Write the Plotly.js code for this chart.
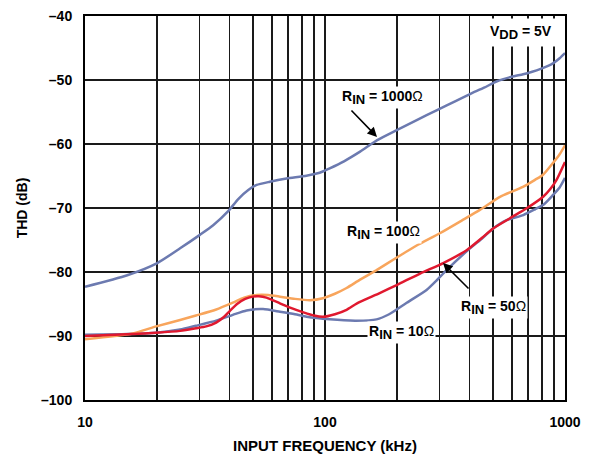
<!DOCTYPE html>
<html>
<head>
<meta charset="utf-8">
<script src="https://cdn.plot.ly/plotly-3.0.1.min.js"></script>
<style>html,body{margin:0;padding:0;background:#fff;}#chart{width:590px;height:457px;}</style>
</head>
<body>
<div id="chart"></div>
<script>
// Frequency (kHz) and THD (dB) for each input resistance
const freq1000 = [10, 15, 20, 24.9, 30.1, 34.2, 39.5, 43.5, 47.9, 51.9, 58.9, 69.1, 83.7, 95, 104.6, 120, 140, 165, 200, 240, 293, 350, 402, 460, 521, 600, 669, 730, 787, 850, 891, 950, 1000];
const thd1000  = [-82.3, -80.5, -78.6, -76.3, -74.2, -72.7, -70.5, -68.6, -67.2, -66.4, -65.9, -65.4, -64.95, -64.5, -63.8, -62.7, -61.2, -59.4, -57.8, -56.3, -54.7, -53.3, -52.2, -51.2, -50.2, -49.5, -49.1, -48.7, -48.3, -47.8, -47.4, -46.6, -45.8];

const freq100 = [10, 15.8, 19.8, 24.9, 29, 35, 41.3, 46, 51.9, 58, 64.9, 75, 86.6, 98, 110, 123, 140, 164, 200, 240, 301, 370, 442, 536, 668, 750, 810, 891, 950, 1000];
const thd100  = [-90.5, -89.6, -88.5, -87.5, -86.8, -85.9, -84.8, -84.0, -83.6, -83.6, -83.85, -84.2, -84.4, -84.1, -83.4, -82.5, -81.2, -79.7, -77.7, -75.9, -73.95, -72.0, -70.3, -68.25, -66.7, -65.6, -64.8, -62.97, -61.6, -60.2];

const freq50 = [10, 15.8, 19.8, 24.9, 29, 32, 35.2, 38, 40.1, 43, 46.5, 50, 53, 57, 64.9, 72, 81.3, 90, 98, 110, 123, 136, 169, 200, 250, 311, 389, 450, 502, 590, 692, 813, 870, 922, 1000];
const thd50  = [-90.0, -89.7, -89.5, -89.2, -88.8, -88.5, -87.9, -87.0, -86.1, -85.0, -84.2, -83.85, -83.8, -84.0, -84.9, -85.6, -86.3, -86.8, -87.0, -86.6, -85.9, -84.9, -83.3, -82.0, -80.2, -78.6, -76.6, -74.7, -73.2, -71.6, -70.05, -68.2, -67.0, -65.6, -62.8];

const freq10 = [10, 15, 19.8, 24.9, 29, 35.2, 41.3, 47.1, 55.2, 64.9, 75, 83.9, 104.6, 135, 164, 185, 219, 265, 293, 321, 402, 450, 502, 571, 670, 750, 813, 890, 950, 1000];
const thd10  = [-89.8, -89.7, -89.5, -89.0, -88.4, -87.6, -86.7, -86.0, -85.8, -86.2, -86.6, -87.0, -87.4, -87.6, -87.4, -86.6, -84.8, -82.8, -81.25, -79.7, -76.3, -74.8, -73.2, -71.9, -71.1, -70.2, -69.5, -68.0, -66.8, -65.3];

const xTickVals = [10, 20, 30, 40, 50, 60, 70, 80, 90, 100, 200, 300, 400, 500, 600, 700, 800, 900, 1000];
const xTickText = ['10', '', '', '', '', '', '', '', '', '100', '', '', '', '', '', '', '', '', '1000'];
const yTickVals = [-100, -90, -80, -70, -60, -50, -40];
const yTickText = ['–100', '–90', '–80', '–70', '–60', '–50', '–40'];

const BLUE = '#6C7AB0', ORANGE = '#F8A55C', RED = '#E0192F';
const FONT = 'Liberation Sans, Arial, Helvetica, sans-serif';

const lineStyle = (c) => ({color: c, width: 2.5, shape: 'spline', smoothing: 0.6});
const traces = [
  {x: freq1000, y: thd1000, mode: 'lines', line: lineStyle(BLUE)},
  {x: freq10, y: thd10, mode: 'lines', line: lineStyle(BLUE)},
  {x: freq100, y: thd100, mode: 'lines', line: lineStyle(ORANGE)},
  {x: freq50, y: thd50, mode: 'lines', line: lineStyle(RED)}
];

const OM = '<span style="font-weight:normal">Ω</span>';
const SUB = (t) => '<sub><span style="font-size:13px">' + t + '</span></sub>';
const lbl = (a, s, b) => '<b>' + a + SUB(s) + b + '</b>';
const annFont = {family: FONT, size: 14, color: '#000'};

const layout = {
  width: 590, height: 457,
  margin: {l: 85, r: 25, t: 16, b: 57},
  paper_bgcolor: '#fff', plot_bgcolor: '#fff',
  showlegend: false,
  font: {family: FONT, color: '#000'},
  xaxis: {
    type: 'log', range: [1, 3],
    tickvals: xTickVals, ticktext: xTickText,
    showgrid: true, gridcolor: '#1a1a1a', gridwidth: 1.7,
    showline: true, linecolor: '#000', linewidth: 2, mirror: true,
    ticks: '', zeroline: false,
    ticklabelstandoff: 8,
    tickfont: {family: FONT, size: 14, weight: 'bold', color: '#000'},
    title: {text: '<b>INPUT FREQUENCY (kHz)</b>', font: {family: FONT, size: 15, color: '#000'}, standoff: 12}
  },
  yaxis: {
    range: [-100, -40],
    tickvals: yTickVals, ticktext: yTickText,
    showgrid: true, gridcolor: '#1a1a1a', gridwidth: 1.7,
    showline: true, linecolor: '#000', linewidth: 2, mirror: true,
    ticks: '', zeroline: false,
    ticklabelstandoff: 8,
    tickfont: {family: FONT, size: 14, weight: 'bold', color: '#000'},
    title: {text: '<b>THD (dB)</b>', font: {family: FONT, size: 14, color: '#000'}, standoff: 10}
  },
  annotations: [
    {x: Math.log10(655), y: -42.5, xref: 'x', yref: 'y', text: lbl('V', 'DD', ' = 5V'), showarrow: false, font: annFont, bgcolor: '#fff', borderpad: 4},
    {x: 2.2375, y: -52.66, xref: 'x', yref: 'y', text: lbl('R', 'IN', ' = 1000') + OM, showarrow: false, font: annFont, bgcolor: '#fff', borderpad: 1},
    {x: 2.2167, y: -58.9, xref: 'x', yref: 'y', text: '', showarrow: true, ax: -27, ay: -28, arrowhead: 2, arrowsize: 1.2, arrowwidth: 1.6, arrowcolor: '#000'},
    {x: 2.2458, y: -73.75, xref: 'x', yref: 'y', text: lbl('R', 'IN', ' = 100') + OM, showarrow: false, font: annFont, bgcolor: '#fff', borderpad: 1},
    {x: 2.702, y: -85.47, xref: 'x', yref: 'y', text: lbl('R', 'IN', ' = 50') + OM, showarrow: false, font: annFont, bgcolor: '#fff', borderpad: 1},
    {x: 2.4917, y: -78.59, xref: 'x', yref: 'y', text: '', showarrow: true, ax: 27, ay: 27, arrowhead: 2, arrowsize: 1.2, arrowwidth: 1.6, arrowcolor: '#000'},
    {x: 2.3208, y: -89.53, xref: 'x', yref: 'y', text: lbl('R', 'IN', ' = 10') + OM, showarrow: false, font: annFont, bgcolor: '#fff', borderpad: 1}
  ]
};

Plotly.newPlot('chart', traces, layout, {displayModeBar: false, staticPlot: true});
</script>
</body>
</html>
